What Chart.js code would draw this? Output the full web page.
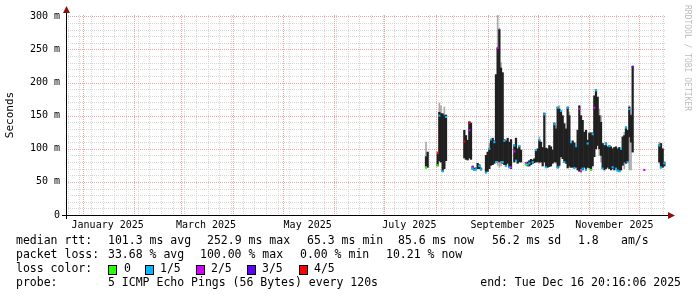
<!DOCTYPE html>
<html>
<head>
<meta charset="utf-8">
<script src="https://cdn.jsdelivr.net/npm/chart.js@4.4.1/dist/chart.umd.min.js"></script>
<style>
html, body { margin: 0; padding: 0; background: #fff; }
</style>
</head>
<body>
<canvas id="smoke" width="697" height="297"></canvas>
<script>
// x values are days since 1 Jan 2025, y values are ms
const days = [206,207,213,214,215,216,217,218,229,230,231,232,233,234,235,236,237,238,239,
  242,243,244,245,246,247,248,249,250,251,252,253,254,255,256,257,259,260,261,262,263,
  266,267,268,269,270,271,272,273,274,275,276,277,278,279,280,281,282,283,284,285,286,287,288,289,290,
  291,292,293,294,295,296,297,298,299,300,301,302,303,304,305,306,307,308,309,310,
  311,312,313,314,315,316,317,318,319,320,321,322,323,324,325,326,327,328,329,330,346,347,348,349];
const rttLow = [71,72,74,82,80,66,70,82,86,84,83,86,84,69,68,68,70,70,68,
  64,66,70,75,76,78,80,82,80,82,78,76,74,78,72,70,80,82,78,80,80,
  76,74,74,76,78,79,80,80,80,80,74,80,72,72,73,74,78,80,80,71,75,88,85,80,78,
  71,74,72,72,71,72,68,66,70,68,72,70,72,71,68,74,88,100,105,100,
  90,70,68,70,72,70,68,70,68,70,67,66,68,75,80,78,80,118,110,95,80,71,72,74];
const rttHigh = [88,95,92,155,153,153,150,151,128,120,113,141,139,74,71,71,78,76,71,
  90,95,100,114,116,112,212,252,280,222,215,114,112,116,110,114,106,116,100,104,98,
  79,80,82,84,83,85,98,100,113,110,102,154,101,100,105,103,98,139,130,163,160,158,150,138,130,
  163,150,110,112,109,105,128,165,150,143,125,128,113,124,124,124,180,189,178,150,
  140,108,105,109,103,105,103,100,102,103,100,102,100,118,120,133,128,163,150,224,106,108,100,80];

// smoke (spread of the pings) where it reaches past the median band
const smokeDays = [206,214,215,217,244,249,250,251,274,284,286,292,310,311,325,328,329,346];
const smokeLow  = [71,80,80,70,70,75,72,74,78,78,72,72,90,80,70,68,68,78];
const smokeHigh = [110,169,165,163,108,302,282,230,118,135,165,155,160,150,125,165,152,110];

// loss-coloured median points [day, ms]
const loss0 = [[206,72],[213,75],[266,76],[305,68]];
const loss1 = [[216,66],[214,150],[218,148],[234,70],[235,68],[236,69],[238,74],[239,69],[242,64],[244,100],
  [245,114],[247,110],[248,80],[252,80],[253,112],[254,74],[256,72],[259,105],[260,82],[262,104],[267,76],
  [268,78],[270,80],[272,98],[274,113],[277,152],[278,72],[283,137],[285,162],[285,72],[287,157],[289,80],
  [291,162],[293,110],[295,71],[296,104],[300,70],[302,68],[303,108],[306,122],[308,188],[312,70],[314,107],
  [316,104],[318,72],[320,70],[321,67],[322,66],[323,100],[326,132],[327,80],[328,160],[346,105],[347,72],[349,78]];
const loss2 = [[232,128],[234,72],[249,252],[257,72],[259,96],[266,78],[298,160],[299,66],[307,162],[337,68]];
const loss3 = [[330,224],[267,77]];
const loss4 = [[213,94],[229,111],[232,139]];

const yTicks = [0,50,100,150,200,250,300];
const monthStarts = [-31,0,31,59,90,120,151,181,212,243,273,304,334];
const labelDays = [15,74,135,196,258,319];
const monthLabels = ['January 2025','March 2025','May 2025','July 2025','September 2025','November 2025'];

const MONO = 'DejaVu Sans Mono';
const lossColors = ['#26ff00','#00b8ff','#d400ff','#6200ff','#ff0000'];

const pts = arr => arr.map(p => ({x: p[0], y: p[1]}));

const rrdPlugin = {
  id: 'rrd',
  beforeDatasetsDraw(chart) {
    const {ctx, chartArea: a, scales: {x, y}} = chart;
    ctx.save();
    ctx.lineWidth = 1;
    ctx.setLineDash([1, 1]);
    const h = (v, c) => { const py = Math.round(y.getPixelForValue(v)) + 0.5;
      ctx.strokeStyle = c; ctx.beginPath(); ctx.moveTo(a.left, py); ctx.lineTo(a.right, py); ctx.stroke(); };
    const vl = (d, c) => { const px = Math.round(x.getPixelForValue(d)) + 0.5;
      if (px < a.left || px > a.right) return;
      ctx.strokeStyle = c; ctx.beginPath(); ctx.moveTo(px, a.top); ctx.lineTo(px, a.bottom); ctx.stroke(); };
    for (let v = 10; v <= 300; v += 10) if (v % 50) h(v, '#d6d6d6');
    for (let d = -9; d <= 349; d += 7) vl(d, '#d6d6d6');
    for (let v = 50; v <= 300; v += 50) h(v, '#eba3a3');
    monthStarts.forEach(d => vl(d, '#eba3a3'));
    ctx.restore();
  },
  afterDatasetsDraw(chart) {
    const {ctx, chartArea: a, scales: {x}} = chart;
    ctx.save();
    // axes with arrows
    ctx.strokeStyle = '#000';
    ctx.lineWidth = 1;
    ctx.beginPath();
    ctx.moveTo(62, a.bottom + 0.5); ctx.lineTo(670, a.bottom + 0.5);
    ctx.moveTo(a.left + 0.5, a.bottom + 4); ctx.lineTo(a.left + 0.5, 11);
    ctx.stroke();
    ctx.fillStyle = '#8b1010';
    ctx.beginPath();
    ctx.moveTo(668, a.bottom - 3); ctx.lineTo(675, a.bottom + 0.5); ctx.lineTo(668, a.bottom + 4); ctx.closePath();
    ctx.fill();
    ctx.beginPath();
    ctx.moveTo(a.left - 3, 13); ctx.lineTo(a.left + 0.5, 6); ctx.lineTo(a.left + 4, 13); ctx.closePath();
    ctx.fill();

    // month labels, centred half a month after each labelled month start
    ctx.fillStyle = '#000';
    ctx.font = '10px "' + MONO + '"';
    ctx.textAlign = 'center';
    ctx.textBaseline = 'middle';
    labelDays.forEach((d, i) => ctx.fillText(monthLabels[i], x.getPixelForValue(d), 225));
    ctx.textAlign = 'left';

    // watermark
    ctx.save();
    ctx.translate(687, 5);
    ctx.rotate(Math.PI / 2);
    ctx.fillStyle = '#bdbdbd';
    ctx.font = '8px "' + MONO + '"';
    ctx.textBaseline = 'middle';
    ctx.fillText('RRDTOOL / TOBI OETIKER', 0, 0);
    ctx.restore();

    // legend block
    ctx.fillStyle = '#000';
    ctx.font = '11.5px "' + MONO + '"';
    ctx.textBaseline = 'middle';
    const t = (s, px, py) => ctx.fillText(s, px, py);
    t('median rtt:', 16, 241); t('101.3 ms avg', 108, 241); t('252.9 ms max', 207, 241);
    t('65.3 ms min', 307, 241); t('85.6 ms now', 398, 241); t('56.2 ms sd', 492, 241);
    t('1.8', 578, 241); t('am/s', 621, 241);
    t('packet loss:', 16, 255); t('33.68 % avg', 108, 255); t('100.00 % max', 200, 255);
    t('0.00 % min', 300, 255); t('10.21 % now', 386, 255);
    t('loss color:', 16, 269);
    const boxes = [[108, '0', 124], [145, '1/5', 160], [196, '2/5', 211], [247, '3/5', 262], [299, '4/5', 314]];
    boxes.forEach((b, i) => {
      ctx.fillStyle = lossColors[i];
      ctx.fillRect(b[0], 265, 8, 9);
      ctx.strokeStyle = '#000';
      ctx.strokeRect(b[0] + 0.5, 265.5, 8, 9);
      ctx.fillStyle = '#000';
      t(b[1], b[2], 269);
    });
    t('probe:', 16, 283); t('5 ICMP Echo Pings (56 Bytes) every 120s', 108, 283);
    ctx.textAlign = 'right';
    t('end: Tue Dec 16 20:16:06 2025', 681, 283);
    ctx.restore();
  }
};

const markerSet = (arr, c) => ({
  type: 'line', data: pts(arr), showLine: false, order: 0,
  pointStyle: 'rect', pointRadius: 1.5, pointBorderWidth: 0,
  pointBackgroundColor: c, borderColor: c
});

new Chart(document.getElementById('smoke'), {
  type: 'bar',
  data: {
    datasets: [
      markerSet(loss0, lossColors[0]),
      markerSet(loss1, lossColors[1]),
      markerSet(loss2, lossColors[2]),
      markerSet(loss3, lossColors[3]),
      markerSet(loss4, lossColors[4]),
      { data: days.map((d, i) => ({x: d, y: [rttLow[i], rttHigh[i]]})),
        backgroundColor: '#202020', barThickness: 1.6, grouped: false, order: 1 },
      { data: smokeDays.map((d, i) => ({x: d, y: [smokeLow[i], smokeHigh[i]]})),
        backgroundColor: '#a8a8a8', barThickness: 1, grouped: false, order: 2 }
    ]
  },
  options: {
    responsive: false,
    animation: false,
    events: [],
    layout: { padding: { left: 0, right: 31, top: 15, bottom: 62 } },
    plugins: { legend: { display: false }, tooltip: { enabled: false } },
    scales: {
      x: {
        type: 'linear', min: -10, max: 350, offset: false,
        afterFit: s => { s.height = 20; },
        ticks: { display: false },
        grid: { display: false, drawTicks: false },
        border: { display: false }
      },
      y: {
        min: 0, max: 302,
        afterBuildTicks: s => { s.ticks = yTicks.map(v => ({value: v})); },
        afterFit: s => { s.width = 66; },
        ticks: { padding: 6, color: '#000', font: { family: MONO, size: 10 },
          callback: v => v === 0 ? '0' : v + ' m' },
        grid: { display: false, drawTicks: false },
        border: { display: false },
        title: { display: true, text: 'Seconds', color: '#000',
          font: { family: MONO, size: 11 }, padding: { top: 4, bottom: 0 } }
      }
    }
  },
  plugins: [rrdPlugin]
});
</script>
</body>
</html>
